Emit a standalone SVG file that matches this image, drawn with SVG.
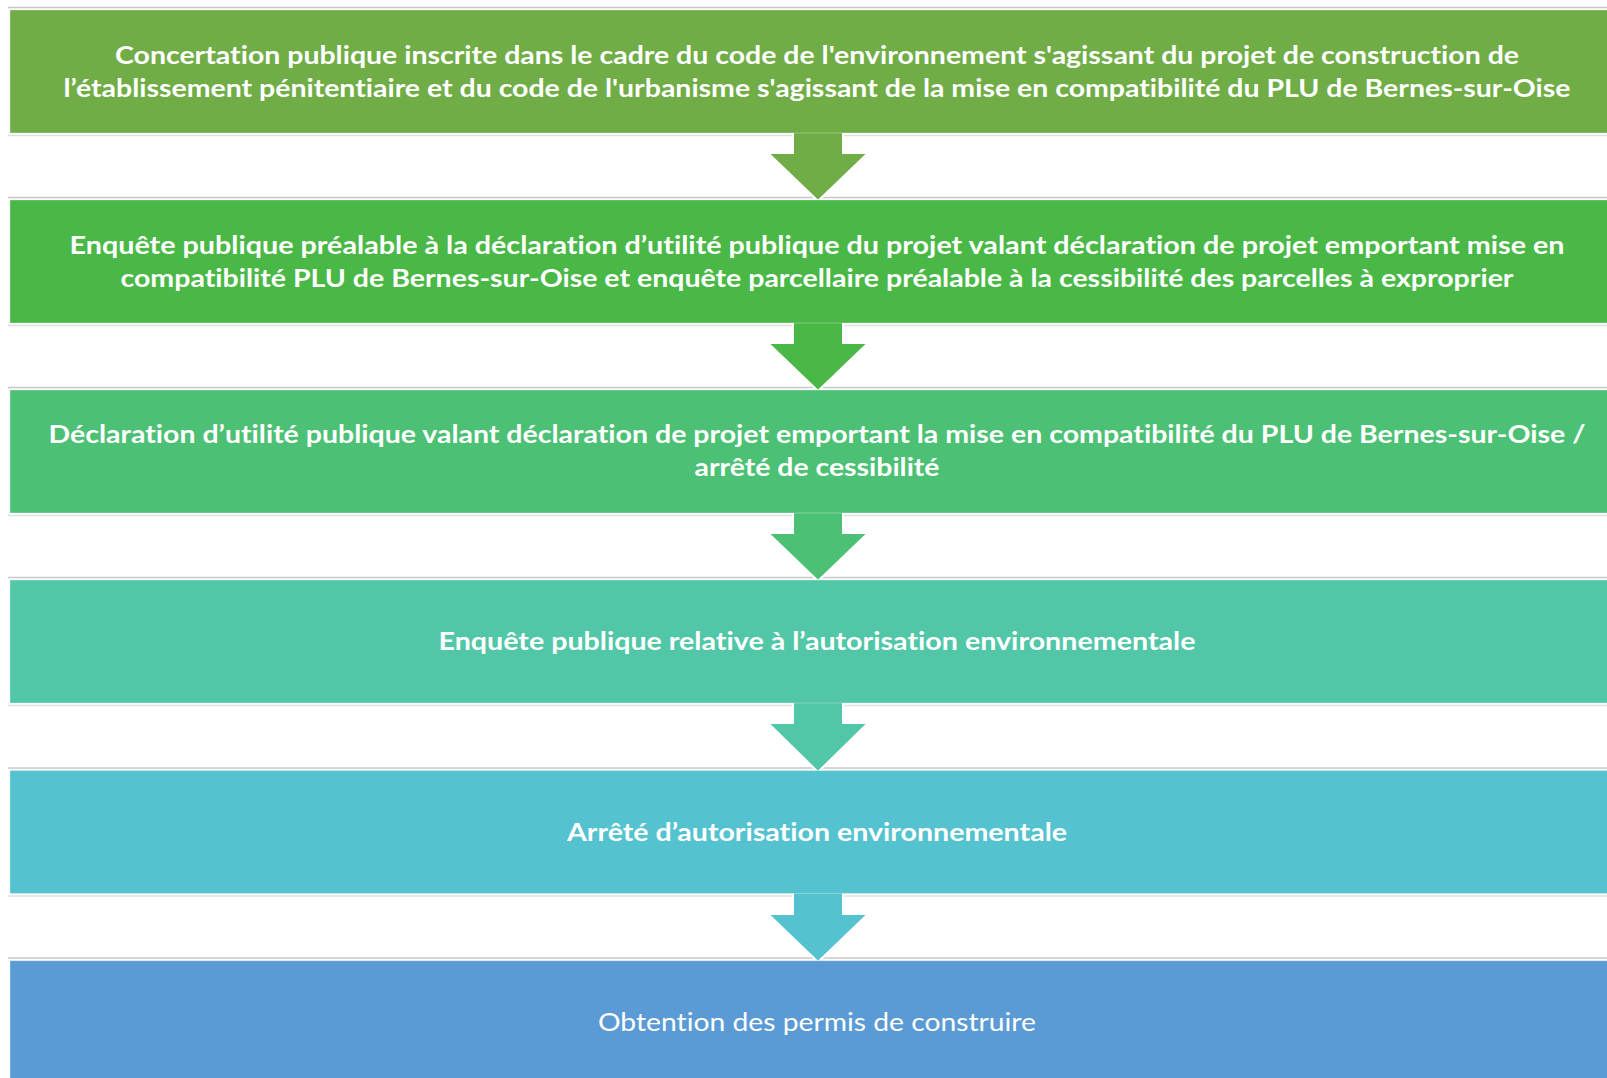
<svg xmlns="http://www.w3.org/2000/svg" width="1607" height="1078" viewBox="0 0 1607 1078">
<style>
.bg{fill:#ffffff}
.sh1{stroke:#c8c8c8;stroke-width:1.5}
.sh2{stroke:#e0e0e0;stroke-width:1.5}
.box{stroke:#ffffff;stroke-opacity:0.3;stroke-width:1}
.arr{stroke:#ffffff;stroke-width:2;stroke-linejoin:miter}
.t{font-family:Lato,"Liberation Sans",sans-serif;font-size:25px;font-weight:700;fill:#ffffff;text-anchor:middle;font-variant-ligatures:none;font-feature-settings:"liga" 0}
.tr{font-weight:400}
</style>
<rect class="bg" x="0" y="0" width="1607" height="1078"/>
<g id="shadows">
<line class="sh1" x1="8" y1="7.5" x2="1607" y2="7.5"/>
<line class="sh2" x1="8" y1="135.5" x2="1607" y2="135.5"/>
<line class="sh1" x1="8" y1="197.5" x2="1607" y2="197.5"/>
<line class="sh2" x1="8" y1="325.5" x2="1607" y2="325.5"/>
<line class="sh1" x1="8" y1="387.5" x2="1607" y2="387.5"/>
<line class="sh2" x1="8" y1="515.5" x2="1607" y2="515.5"/>
<line class="sh1" x1="8" y1="577.5" x2="1607" y2="577.5"/>
<line class="sh2" x1="8" y1="705.5" x2="1607" y2="705.5"/>
<line class="sh1" x1="8" y1="768" x2="1607" y2="768"/>
<line class="sh2" x1="8" y1="896" x2="1607" y2="896"/>
<line class="sh1" x1="8" y1="958" x2="1607" y2="958"/>
</g>
<g id="connectors">
<polygon class="arr" fill="#70AD47" points="793,128 843,128 843,153 868,153 818,201 768,153 793,153"/>
<polygon class="arr" fill="#4AB847" points="793,318 843,318 843,343 868,343 818,391 768,343 793,343"/>
<polygon class="arr" fill="#4CC175" points="793,508 843,508 843,533 868,533 818,581 768,533 793,533"/>
<polygon class="arr" fill="#51C7A7" points="793,698 843,698 843,723 868,723 818,772 768,723 793,723"/>
<polygon class="arr" fill="#54C2CF" points="793,888 843,888 843,914 868,914 818,962 768,914 793,914"/>
</g>
<g id="node1">
<rect class="box" x="10" y="10" width="1620" height="123" fill="#70AD47"/>
<text class="t" x="817" y="63.5" textLength="1404" lengthAdjust="spacingAndGlyphs">Concertation publique inscrite dans le cadre du code de l'environnement s'agissant du projet de construction de</text>
<text class="t" x="817" y="96.5" textLength="1507" lengthAdjust="spacingAndGlyphs">l’établissement pénitentiaire et du code de l'urbanisme s'agissant de la mise en compatibilité du PLU de Bernes-sur-Oise</text>
</g>
<g id="node2">
<rect class="box" x="10" y="200" width="1620" height="123" fill="#4AB847"/>
<text class="t" x="817" y="254.3" textLength="1495" lengthAdjust="spacingAndGlyphs">Enquête publique préalable à la déclaration d’utilité publique du projet valant déclaration de projet emportant mise en</text>
<text class="t" x="817" y="287" textLength="1393" lengthAdjust="spacingAndGlyphs">compatibilité PLU de Bernes-sur-Oise et enquête parcellaire préalable à la cessibilité des parcelles à exproprier</text>
</g>
<g id="node3">
<rect class="box" x="10" y="390" width="1620" height="123" fill="#4CC175"/>
<text class="t" x="817" y="443" textLength="1537" lengthAdjust="spacingAndGlyphs">Déclaration d’utilité publique valant déclaration de projet emportant la mise en compatibilité du PLU de Bernes-sur-Oise /</text>
<text class="t" x="817" y="476" textLength="245" lengthAdjust="spacingAndGlyphs">arrêté de cessibilité</text>
</g>
<g id="node4">
<rect class="box" x="10" y="580" width="1620" height="123" fill="#51C7A7"/>
<text class="t" x="817" y="650" textLength="757" lengthAdjust="spacingAndGlyphs">Enquête publique relative à l’autorisation environnementale</text>
</g>
<g id="node5">
<rect class="box" x="10" y="770.5" width="1620" height="123" fill="#54C2CF"/>
<text class="t" x="817" y="840.5" textLength="500" lengthAdjust="spacingAndGlyphs">Arrêté d’autorisation environnementale</text>
</g>
<g id="node6">
<rect class="box" x="10" y="960.7" width="1620" height="123" fill="#5B9BD5"/>
<text class="t tr" x="817" y="1031" textLength="438" lengthAdjust="spacingAndGlyphs">Obtention des permis de construire</text>
</g>
</svg>
